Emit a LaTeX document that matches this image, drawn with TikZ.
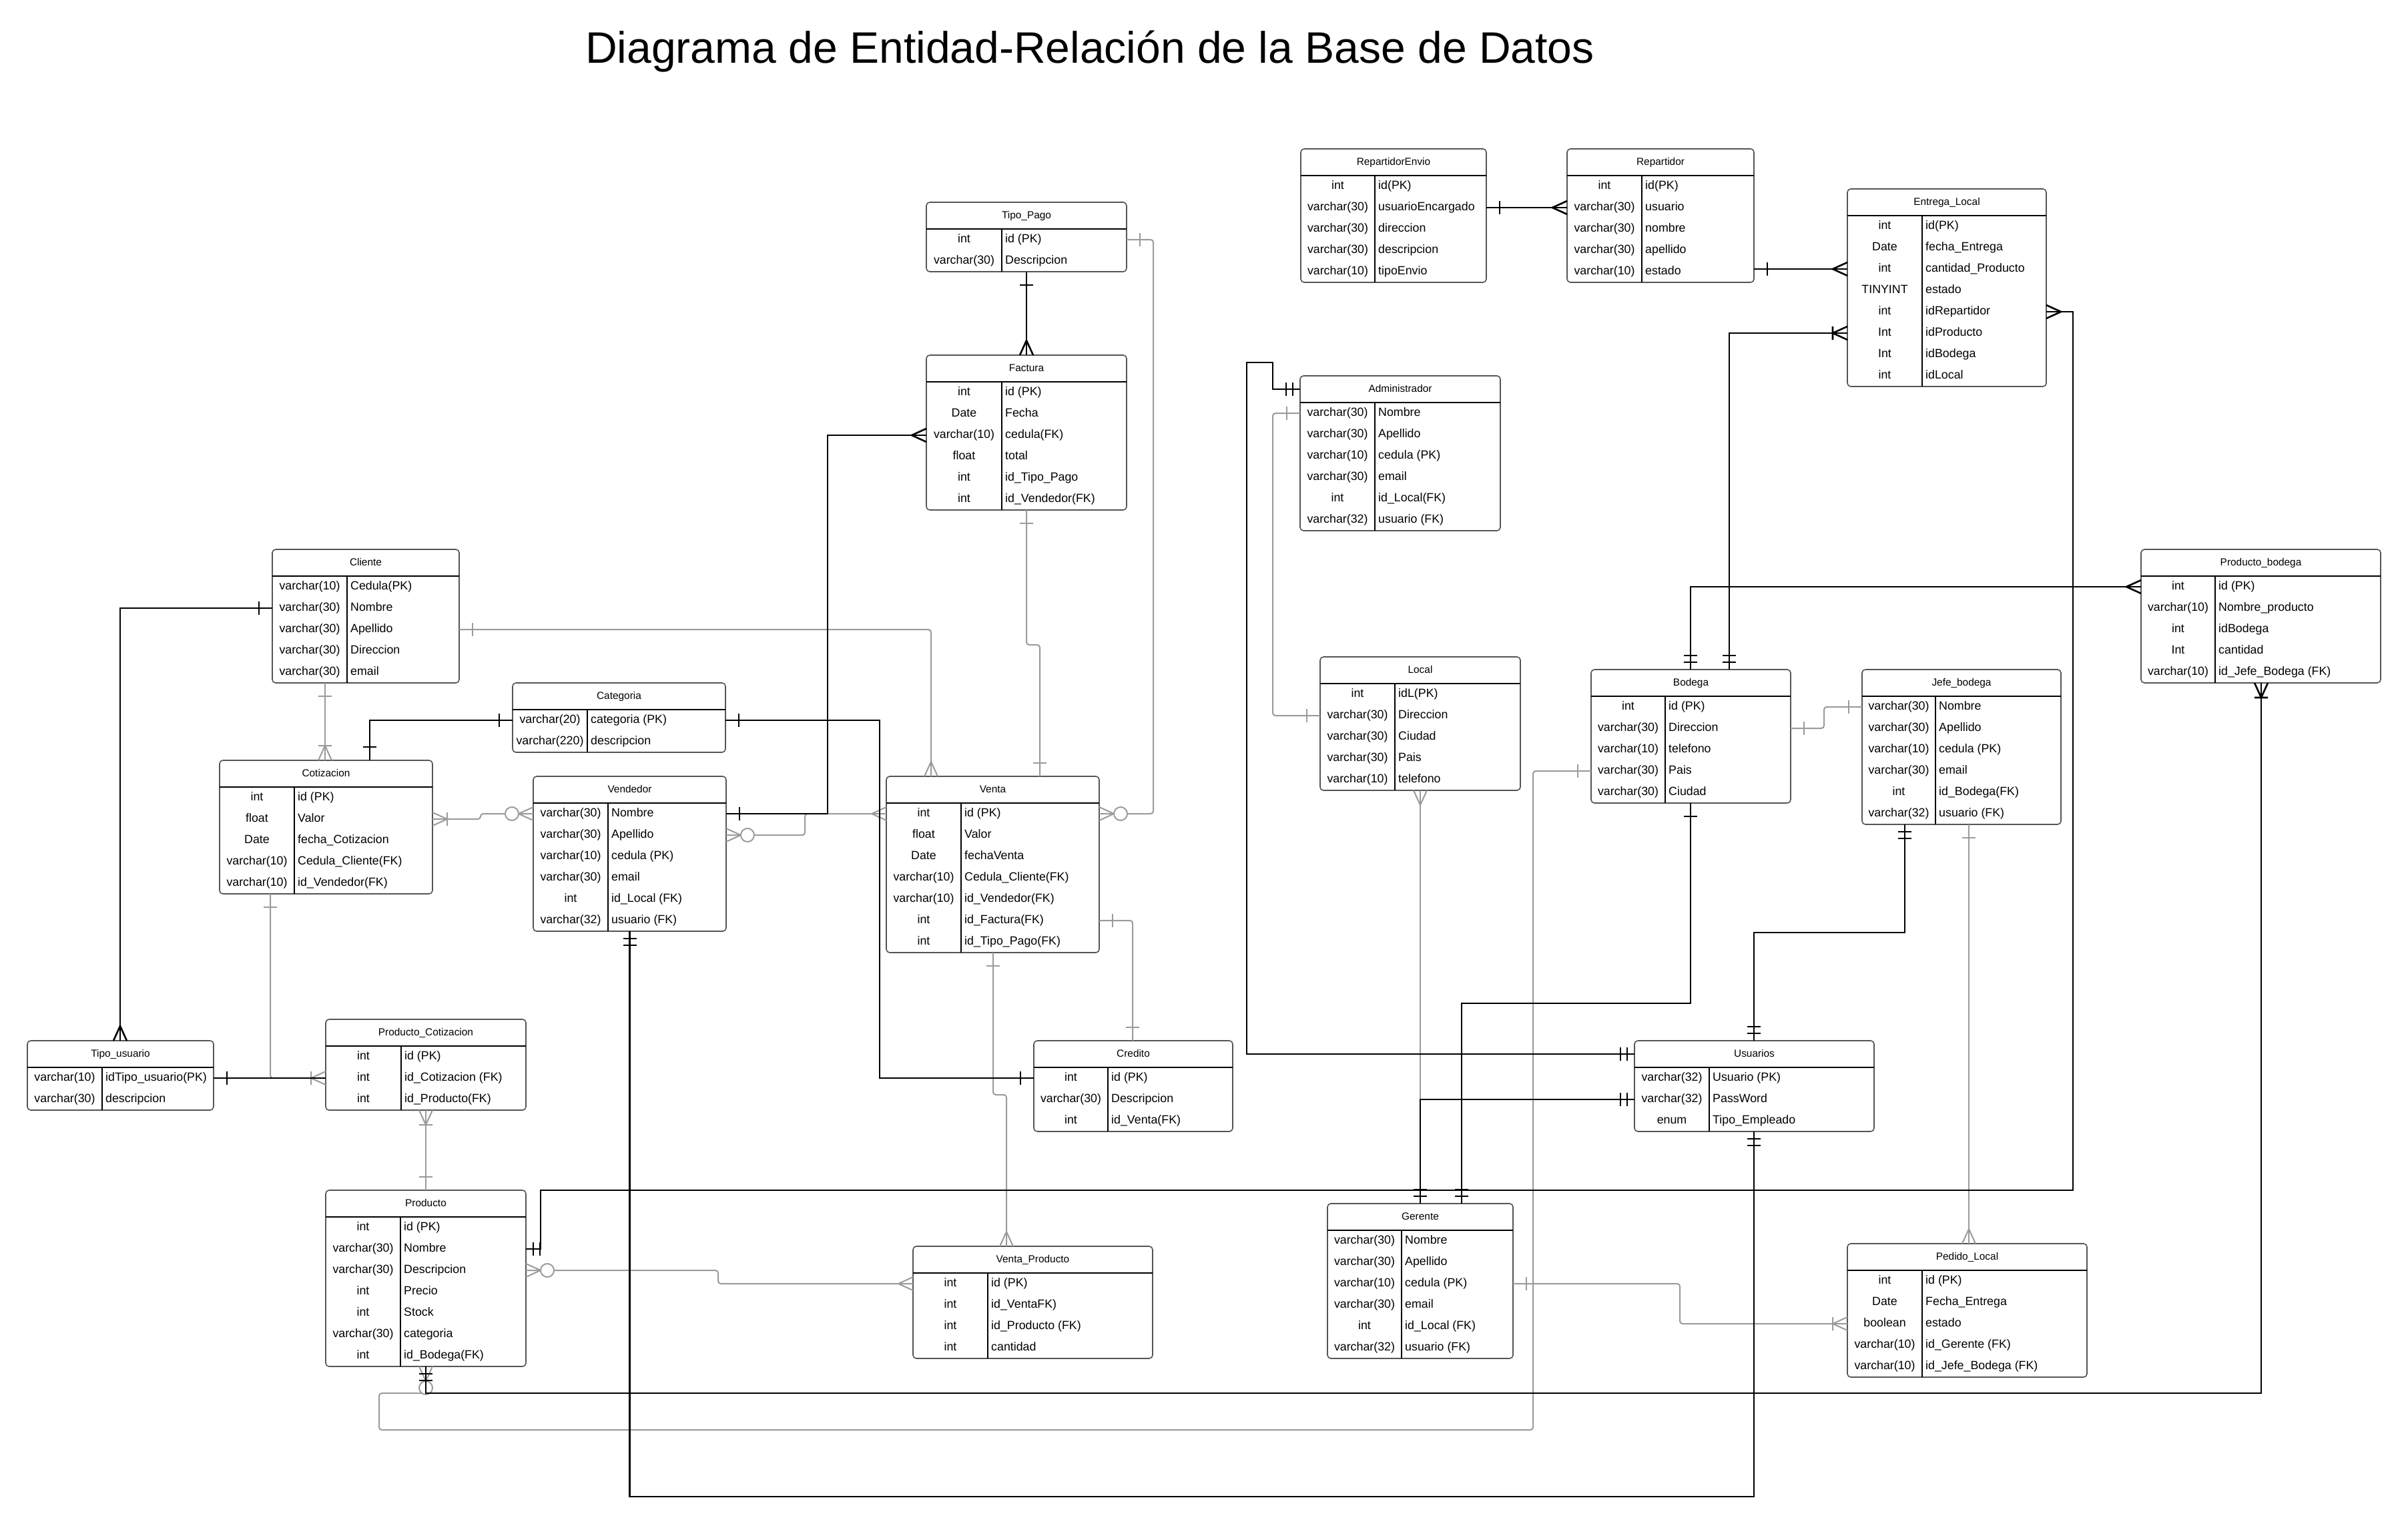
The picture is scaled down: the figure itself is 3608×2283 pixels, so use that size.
\documentclass[tikz,border=0pt]{standalone}
\usepackage{fontspec}
\setmainfont{Liberation Sans}
\definecolor{bord}{RGB}{85,85,85}
\definecolor{lgray}{RGB}{155,155,155}
\tikzset{
  entbox/.style={draw=bord, line width=1.6pt, rounded corners=5pt, fill=white, inner sep=0pt, outer sep=0pt, anchor=north west},
  innerline/.style={line width=1.2pt, draw=black},
  rowanchor/.style={inner sep=0pt, outer sep=0pt, minimum height=0pt},
  ttl/.style={font=\fontsize{15.4}{18}\selectfont, anchor=base, inner sep=0pt},
  typ/.style={font=\fontsize{17.8}{20}\selectfont, anchor=base, inner sep=0pt},
  nam/.style={font=\fontsize{17.8}{20}\selectfont, anchor=base west, inner sep=0pt},
  blk/.style={draw=black, line width=2.6pt},
  gry/.style={draw=lgray, line width=2pt, rounded corners=4pt},
}
\newcount\nrows
% #1 name, #2 title, #3 left, #4 top, #5 right, #6 divider, #7 rows
\newcommand{\erent}[7]{%
  \global\nrows=0
  \foreach \ty/\nm in {#7}{\global\advance\nrows by 1}%
  \pgfmathsetmacro{\entH}{40+32*\the\nrows}%
  \node[entbox, minimum width={(#5-#3)*1pt}, minimum height={\entH pt}] (#1) at (#3,#4) {};
  \draw[innerline] (#3,#4+40) -- (#5,#4+40);
  \draw[innerline] (#6,#4+40) -- (#6,#4+\entH);
  \node[rowanchor, minimum width={(#5-#3)*1pt}] (#1-h) at ({(#3+#5)/2},#4+20) {};
  \node[ttl] (#1-t) at ({(#3+#5)/2},#4+24) {#2};
  \foreach \ty/\nm [count=\i from 0] in {#7}{%
    \node[rowanchor, minimum width={(#5-#3)*1pt}] (#1-\i) at ({(#3+#5)/2},#4+56+32*\i) {};
    \node[typ] (#1-ty\i) at ({(#3+#6)/2},#4+60+32*\i) {\ty};
    \node[nam] (#1-nm\i) at (#6+5,#4+60+32*\i) {\nm};
  }%
}
\newcommand{\mkOne}[3]{\begin{scope}[shift={#2},rotate=#3]\draw[#1] (20,-10) -- (20,10);\end{scope}}
\newcommand{\mkTwo}[3]{\begin{scope}[shift={#2},rotate=#3]\draw[#1] (11,-10) -- (11,10) (21,-10) -- (21,10);\end{scope}}
\newcommand{\mkMany}[3]{\begin{scope}[shift={#2},rotate=#3]\draw[#1,sharp corners] (0,-10) -- (22,0) -- (0,10);\end{scope}}
\newcommand{\mkOneMany}[3]{\begin{scope}[shift={#2},rotate=#3]\draw[#1,sharp corners] (0,-10) -- (22,0) -- (0,10) (22,-10) -- (22,10);\end{scope}}
\newcommand{\mkZeroMany}[3]{\begin{scope}[shift={#2},rotate=#3]\draw[#1,sharp corners] (0,-10) -- (22,0) -- (0,10);\draw[#1,fill=white] (32,0) circle (10pt);\end{scope}}
\begin{document}
\begin{tikzpicture}[x=1pt,y=-1pt]
\fill[white] (0,0) rectangle (3608,2283);
\useasboundingbox (0,0) rectangle (3608,2283);
\node[font=\fontsize{66}{70}\selectfont, anchor=base, inner sep=0pt] (title) at (1633,94) {Diagrama de Entidad-Relación de la Base de Datos};

% ---------- entities ----------
\erent{tp}{Tipo\_Pago}{1388}{303}{1688}{1501}{int/id (PK), varchar(30)/Descripcion}
\erent{fac}{Factura}{1388}{532}{1688}{1501}{int/id (PK), Date/Fecha, varchar(10)/cedula(FK), float/total, int/id\_Tipo\_Pago, int/id\_Vendedor(FK)}
\erent{re}{RepartidorEnvio}{1949}{223}{2227}{2060}{int/id(PK), varchar(30)/usuarioEncargado, varchar(30)/direccion, varchar(30)/descripcion, varchar(10)/tipoEnvio}
\erent{rep}{Repartidor}{2348}{223}{2628}{2460}{int/id(PK), varchar(30)/usuario, varchar(30)/nombre, varchar(30)/apellido, varchar(10)/estado}
\erent{el}{Entrega\_Local}{2768}{283}{3066}{2880}{int/id(PK), Date/fecha\_Entrega, int/cantidad\_Producto, TINYINT/estado, int/idRepartidor, Int/idProducto, Int/idBodega, int/idLocal}
\erent{adm}{Administrador}{1948}{563}{2248}{2060}{varchar(30)/Nombre, varchar(30)/Apellido, varchar(10)/cedula (PK), varchar(30)/email, int/id\_Local(FK), varchar(32)/usuario (FK)}
\erent{loc}{Local}{1978}{984}{2278}{2090}{int/idL(PK), varchar(30)/Direccion, varchar(30)/Ciudad, varchar(30)/Pais, varchar(10)/telefono}
\erent{pb}{Producto\_bodega}{3208}{823}{3567}{3319}{int/id (PK), varchar(10)/Nombre\_producto, int/idBodega, Int/cantidad, varchar(10)/id\_Jefe\_Bodega (FK)}
\erent{bod}{Bodega}{2384}{1003}{2683}{2495}{int/id (PK), varchar(30)/Direccion, varchar(10)/telefono, varchar(30)/Pais, varchar(30)/Ciudad}
\erent{jb}{Jefe\_bodega}{2790}{1003}{3088}{2900}{varchar(30)/Nombre, varchar(30)/Apellido, varchar(10)/cedula (PK), varchar(30)/email, int/id\_Bodega(FK), varchar(32)/usuario (FK)}
\erent{cli}{Cliente}{408}{823}{688}{520}{varchar(10)/Cedula(PK), varchar(30)/Nombre, varchar(30)/Apellido, varchar(30)/Direccion, varchar(30)/email}
\erent{cat}{Categoria}{768}{1023}{1087}{880}{varchar(20)/categoria (PK), varchar(220)/descripcion}
\erent{cot}{Cotizacion}{329}{1139}{648}{441}{int/id (PK), float/Valor, Date/fecha\_Cotizacion, varchar(10)/Cedula\_Cliente(FK), varchar(10)/id\_Vendedor(FK)}
\erent{ven}{Vendedor}{799}{1163}{1088}{911}{varchar(30)/Nombre, varchar(30)/Apellido, varchar(10)/cedula (PK), varchar(30)/email, int/id\_Local (FK), varchar(32)/usuario (FK)}
\erent{vta}{Venta}{1328}{1163}{1647}{1440}{int/id (PK), float/Valor, Date/fechaVenta, varchar(10)/Cedula\_Cliente(FK), varchar(10)/id\_Vendedor(FK), int/id\_Factura(FK), int/id\_Tipo\_Pago(FK)}
\erent{tu}{Tipo\_usuario}{41}{1559}{320}{153}{varchar(10)/idTipo\_usuario(PK), varchar(30)/descripcion}
\erent{pc}{Producto\_Cotizacion}{488}{1527}{788}{601}{int/id (PK), int/id\_Cotizacion (FK), int/id\_Producto(FK)}
\erent{cre}{Credito}{1549}{1559}{1847}{1660}{int/id (PK), varchar(30)/Descripcion, int/id\_Venta(FK)}
\erent{usu}{Usuarios}{2449}{1559}{2808}{2561}{varchar(32)/Usuario (PK), varchar(32)/PassWord, enum/Tipo\_Empleado}
\erent{pro}{Producto}{488}{1783}{788}{600}{int/id (PK), varchar(30)/Nombre, varchar(30)/Descripcion, int/Precio, int/Stock, varchar(30)/categoria, int/id\_Bodega(FK)}
\erent{vp}{Venta\_Producto}{1368}{1867}{1727}{1480}{int/id (PK), int/id\_VentaFK), int/id\_Producto (FK), int/cantidad}
\erent{ger}{Gerente}{1989}{1803}{2267}{2100}{varchar(30)/Nombre, varchar(30)/Apellido, varchar(10)/cedula (PK), varchar(30)/email, int/id\_Local (FK), varchar(32)/usuario (FK)}
\erent{pl}{Pedido\_Local}{2768}{1863}{3127}{2880}{int/id (PK), Date/Fecha\_Entrega, boolean/estado, varchar(10)/id\_Gerente (FK), varchar(10)/id\_Jefe\_Bodega (FK)}

% ---------- gray connectors ----------
\draw[gry] (tp-0.east) -- ++(40,0) |- (vta-0.east);
\mkOne{gry}{(tp-0.east)}{0}\mkZeroMany{gry}{(vta-0.east)}{0}
\draw[gry] (cli-2.east) -| ([xshift=67pt]vta.north west);
\mkOne{gry}{(cli-2.east)}{0}\mkMany{gry}{([xshift=67pt]vta.north west)}{90}
\draw[gry] ([xshift=79pt]cli.south west) -- ([xshift=158pt]cot.north west);
\mkOne{gry}{([xshift=79pt]cli.south west)}{270}\mkOneMany{gry}{([xshift=158pt]cot.north west)}{90}
\draw[gry] (cot-1.east) -- ++(72,0) |- (ven-0.west);
\mkOneMany{gry}{(cot-1.east)}{0}\mkZeroMany{gry}{(ven-0.west)}{180}
\draw[gry] ([xshift=76pt]cot.south west) |- (pc-1.west);
\mkOne{gry}{([xshift=76pt]cot.south west)}{270}\mkOneMany{gry}{(pc-1.west)}{180}
\draw[gry] ([xshift=150pt]pc.south west) -- ([xshift=150pt]pro.north west);
\mkOneMany{gry}{([xshift=150pt]pc.south west)}{270}\mkOne{gry}{([xshift=150pt]pro.north west)}{90}
\draw[gry] (ven-1.east) -- ++(118,0) |- (vta-0.west);
\mkZeroMany{gry}{(ven-1.east)}{0}\mkMany{gry}{(vta-0.west)}{180}
\draw[gry] (fac.south) -- ++(0,202) -| ([xshift=230pt]vta.north west);
\mkOne{gry}{(fac.south)}{270}\mkOne{gry}{([xshift=230pt]vta.north west)}{90}
\draw[gry] (vta-5.east) -| ([xshift=148pt]cre.north west);
\mkOne{gry}{(vta-5.east)}{0}\mkOne{gry}{([xshift=148pt]cre.north west)}{90}
\draw[gry] ([xshift=160pt]vta.south west) -- ++(0,213) -| ([xshift=140pt]vp.north west);
\mkOne{gry}{([xshift=160pt]vta.south west)}{270}\mkMany{gry}{([xshift=140pt]vp.north west)}{90}
\draw[gry] (pro-2.east) -- ++(288,0) |- (vp-0.west);
\mkZeroMany{gry}{(pro-2.east)}{0}\mkMany{gry}{(vp-0.west)}{180}
\draw[gry] ([xshift=150pt]pro.south west) -- ++(0,40) -- ++(-70,0) -- ++(0,55) -| ([xshift=-87pt]bod-3.west) -- (bod-3.west);
\mkZeroMany{gry}{([xshift=150pt]pro.south west)}{270}\mkOne{gry}{(bod-3.west)}{180}
\draw[gry] (bod-1.east) -- ++(50,0) |- (jb-0.west);
\mkOne{gry}{(bod-1.east)}{0}\mkOne{gry}{(jb-0.west)}{180}
\draw[gry] ([xshift=160pt]jb.south west) -- ([xshift=182pt]pl.north west);
\mkOne{gry}{([xshift=160pt]jb.south west)}{270}\mkMany{gry}{([xshift=182pt]pl.north west)}{90}
\draw[gry] (ger-2.east) -- ++(250,0) |- (pl-2.west);
\mkOne{gry}{(ger-2.east)}{0}\mkOneMany{gry}{(pl-2.west)}{180}
\draw[gry] (loc.south) -- ([xshift=139pt]ger.north west);
\mkMany{gry}{(loc.south)}{270}
\draw[gry] (adm-0.west) -- ++(-41,0) |- (loc-1.west);
\mkOne{gry}{(adm-0.west)}{180}\mkOne{gry}{(loc-1.west)}{180}

% ---------- black connectors ----------
\draw[blk] (tp.south) -- (fac.north);
\mkOne{blk}{(tp.south)}{270}\mkMany{blk}{(fac.north)}{90}
\draw[blk] (ven-0.east) -- ++(152,0) |- (fac-2.west);
\mkOne{blk}{(ven-0.east)}{0}\mkMany{blk}{(fac-2.west)}{180}
\draw[blk] (cli-1.west) -| ([xshift=139pt]tu.north west);
\mkOne{blk}{(cli-1.west)}{180}\mkMany{blk}{([xshift=139pt]tu.north west)}{90}
\draw[blk] (cat-0.west) -| ([xshift=225pt]cot.north west);
\mkOne{blk}{(cat-0.west)}{180}\mkOne{blk}{([xshift=225pt]cot.north west)}{90}
\draw[blk] (cat-0.east) -- ++(231,0) |- (cre-0.west);
\mkOne{blk}{(cat-0.east)}{0}\mkOne{blk}{(cre-0.west)}{180}
\draw[blk] (tu-0.east) -- (pc-1.west);
\mkOne{blk}{(tu-0.east)}{0}
\draw[blk] (pro-1.east) -- ++(22,0) -- ++(0,-88) -| ([xshift=40pt]el-4.east) -- (el-4.east);
\mkTwo{blk}{(pro-1.east)}{0}\mkMany{blk}{(el-4.east)}{0}
\draw[blk] ([xshift=150pt]pro.south west) -- ++(0,40) -| ([xshift=180pt]pb.south west);
\mkTwo{blk}{([xshift=150pt]pro.south west)}{270}\mkOneMany{blk}{([xshift=180pt]pb.south west)}{270}
\draw[blk] ([xshift=149pt]bod.north west) |- (pb-0.west);
\mkTwo{blk}{([xshift=149pt]bod.north west)}{90}\mkMany{blk}{(pb-0.west)}{180}
\draw[blk] ([xshift=207pt]bod.north west) |- (el-5.west);
\mkTwo{blk}{([xshift=207pt]bod.north west)}{90}\mkOneMany{blk}{(el-5.west)}{180}
\draw[blk] ([xshift=149pt]bod.south west) -- ++(0,300) -| ([xshift=201pt]ger.north west);
\mkOne{blk}{([xshift=149pt]bod.south west)}{270}\mkTwo{blk}{([xshift=201pt]ger.north west)}{90}
\draw[blk] ([xshift=64pt]jb.south west) -- ++(0,162) -| ([xshift=179pt]usu.north west);
\mkTwo{blk}{([xshift=64pt]jb.south west)}{270}\mkTwo{blk}{([xshift=179pt]usu.north west)}{90}
\draw[blk] (usu-1.west) -| ([xshift=139pt]ger.north west);
\mkTwo{blk}{(usu-1.west)}{180}\mkTwo{blk}{([xshift=139pt]ger.north west)}{90}
\draw[blk] (usu-h.west) -| ([xshift=-80pt,yshift=20pt]adm.north west) -- ++(39,0) |- (adm-h.west);
\mkTwo{blk}{(usu-h.west)}{180}\mkTwo{blk}{(adm-h.west)}{180}
\draw[blk] ([xshift=179pt]usu.south west) -- ++(0,547) -| (ven.south);
\mkTwo{blk}{([xshift=179pt]usu.south west)}{270}\mkTwo{blk}{(ven.south)}{270}
\draw[blk] (el-2.west -| rep.east) -- (el-2.west);
\mkOne{blk}{(el-2.west -| rep.east)}{0}\mkMany{blk}{(el-2.west)}{180}
\draw[blk] (re-1.east) -- (rep-1.west);
\mkOne{blk}{(re-1.east)}{0}\mkMany{blk}{(rep-1.west)}{180}
\end{tikzpicture}
\end{document}
